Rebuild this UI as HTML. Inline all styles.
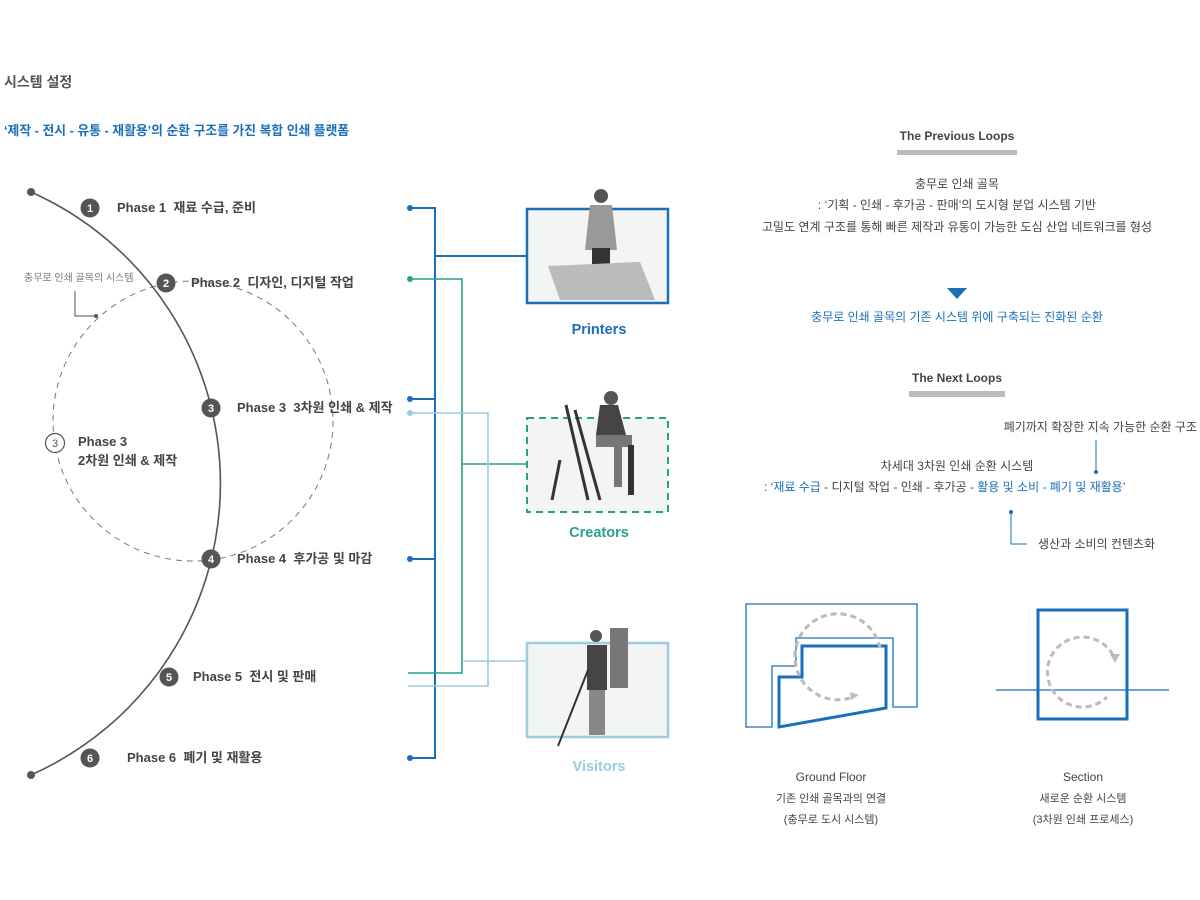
<!DOCTYPE html>
<html><head><meta charset="utf-8"><style>
html,body{margin:0;padding:0;background:#fff;width:1200px;height:900px;overflow:hidden}
svg{display:block}
text{font-family:"Liberation Sans","Noto Sans CJK KR",sans-serif;white-space:pre}
.ph{font-size:13px;font-weight:bold;fill:#444}
.num{font-size:11px;font-weight:bold;fill:#fff}
.t{font-size:12px;fill:#444}
.s{font-size:11px;fill:#444}
</style></head><body>
<svg width="1200" height="900" viewBox="0 0 1200 900" xml:space="preserve">
<text x="4" y="87" font-size="14" font-weight="bold" fill="#555">시스템 설정</text>
<text x="4" y="135" font-size="12.8" font-weight="bold" fill="#1a6fbb">‘제작 - 전시 - 유통 - 재활용’의 순환 구조를 가진 복합 인쇄 플랫폼</text>

<circle cx="193" cy="421" r="140" fill="none" stroke="#777" stroke-width="1" stroke-dasharray="6,5"/>
<path d="M31 192 A319 319 0 0 1 31 775" fill="none" stroke="#555" stroke-width="1.6"/>
<circle cx="31" cy="192" r="4" fill="#555"/>
<circle cx="31" cy="775" r="4" fill="#555"/>

<text x="24" y="281" font-size="10" fill="#777">충무로 인쇄 골목의 시스템</text>
<path d="M75 291 V316 H96" fill="none" stroke="#555" stroke-width="1"/>
<circle cx="96" cy="316" r="2" fill="#555"/>

<g>
<circle cx="90" cy="208" r="9.5" fill="#555"/><text class="num" x="90" y="212" text-anchor="middle">1</text>
<circle cx="166" cy="283" r="9.5" fill="#555"/><text class="num" x="166" y="287" text-anchor="middle">2</text>
<circle cx="211" cy="408" r="9.5" fill="#555"/><text class="num" x="211" y="412" text-anchor="middle">3</text>
<circle cx="211" cy="559" r="9.5" fill="#555"/><text class="num" x="211" y="563" text-anchor="middle">4</text>
<circle cx="169" cy="677" r="9.5" fill="#555"/><text class="num" x="169" y="681" text-anchor="middle">5</text>
<circle cx="90" cy="758" r="9.5" fill="#555"/><text class="num" x="90" y="762" text-anchor="middle">6</text>
<circle cx="55" cy="443" r="9.5" fill="#fff" stroke="#555" stroke-width="1.2"/><text x="55" y="447" text-anchor="middle" font-size="11" fill="#555">3</text>
</g>
<text class="ph" x="117" y="212">Phase 1  재료 수급, 준비</text>
<text class="ph" x="191" y="287">Phase 2  디자인, 디지털 작업</text>
<text class="ph" x="237" y="412">Phase 3  3차원 인쇄 &amp; 제작</text>
<text class="ph" x="78" y="446">Phase 3</text>
<text class="ph" x="78" y="465">2차원 인쇄 &amp; 제작</text>
<text class="ph" x="237" y="563">Phase 4  후가공 및 마감</text>
<text class="ph" x="193" y="681">Phase 5  전시 및 판매</text>
<text class="ph" x="127" y="762">Phase 6  폐기 및 재활용</text>

<g fill="none" stroke-width="2">
<path d="M410 208 H435 V758 H410 M410 399 H435 M410 559 H435 M435 256 H526" stroke="#1a6fbb"/>
<path d="M410 279 H462 V673 H408 M462 464 H526" stroke="#27a08c" stroke-width="1.6"/>
<path d="M410 413 H488 V686 H408 M462 661 H526" stroke="#9ccbe3" stroke-width="1.6"/>
</g>
<circle cx="410" cy="208" r="3" fill="#1a6fbb"/>
<circle cx="410" cy="399" r="3" fill="#1a6fbb"/>
<circle cx="410" cy="559" r="3" fill="#1a6fbb"/>
<circle cx="410" cy="758" r="3" fill="#1a6fbb"/>
<circle cx="410" cy="279" r="3" fill="#27a08c"/>
<circle cx="410" cy="413" r="3" fill="#9ccbe3"/>

<rect x="527" y="209" width="141" height="94" fill="#f3f4f4" stroke="#1a6fbb" stroke-width="2.5"/>
<rect x="527" y="418" width="141" height="94" fill="#f3f4f4" stroke="#27a08c" stroke-width="2" stroke-dasharray="7,5"/>
<rect x="527" y="643" width="141" height="94" fill="#f3f4f4" stroke="#9ccbe3" stroke-width="2.5"/>
<g fill="#555">
<circle cx="601" cy="196" r="7"/>
<path d="M590 205 h22 l5 45 h-32 z" fill="#999"/>
<rect x="592" y="248" width="18" height="20" fill="#333"/>
<path d="M548 266 L640 262 L655 300 L560 300 Z" fill="#bbb"/>
<circle cx="611" cy="398" r="7"/>
<path d="M600 405 h18 l8 30 h-30 z" fill="#444"/>
<path d="M596 435 h36 v12 h-10 v40 h-8 v-40 h-18 z" fill="#777"/>
<path d="M566 405 L588 500 M575 410 L600 500 M560 460 L552 500" stroke="#333" stroke-width="3" fill="none"/>
<rect x="628" y="445" width="6" height="50" fill="#333"/>
<circle cx="596" cy="636" r="6"/>
<path d="M610 628 h18 v60 h-18 z" fill="#777"/>
<path d="M587 645 h20 v45 h-20 z" fill="#444"/>
<path d="M589 690 h16 v45 h-16 z" fill="#888"/>
<path d="M588 670 L558 746" stroke="#333" stroke-width="2"/>
</g>
<text x="599" y="334" text-anchor="middle" font-size="14.5" font-weight="bold" fill="#1a6fbb">Printers</text>
<text x="599" y="537" text-anchor="middle" font-size="14.5" font-weight="bold" fill="#27a08c">Creators</text>
<text x="599" y="771" text-anchor="middle" font-size="14.5" font-weight="bold" fill="#9ccbe3">Visitors</text>

<text x="957" y="140" text-anchor="middle" font-size="12" font-weight="bold" fill="#444">The Previous Loops</text>
<rect x="897" y="150" width="120" height="5" fill="#bbb"/>
<text x="957" y="188" text-anchor="middle" class="t">충무로 인쇄 골목</text>
<text x="957" y="209" text-anchor="middle" class="t">: ‘기획 - 인쇄 - 후가공 - 판매’의 도시형 분업 시스템 기반</text>
<text x="957" y="231" text-anchor="middle" class="t">고밀도 연계 구조를 통해 빠른 제작과 유통이 가능한 도심 산업 네트워크를 형성</text>
<path d="M947 288 h20 l-10 11 z" fill="#1a6fbb"/>
<text x="957" y="321" text-anchor="middle" font-size="12" fill="#1a6fbb">충무로 인쇄 골목의 기존 시스템 위에 구축되는 진화된 순환</text>

<text x="957" y="382" text-anchor="middle" font-size="12" font-weight="bold" fill="#444">The Next Loops</text>
<rect x="909" y="391" width="96" height="6" fill="#bbb"/>
<text x="1197" y="431" text-anchor="end" class="t">폐기까지 확장한 지속 가능한 순환 구조</text>
<path d="M1096 440 V472" stroke="#1a6fbb" stroke-width="1"/><circle cx="1096" cy="472" r="2" fill="#1a6fbb"/>
<text x="957" y="470" text-anchor="middle" class="t">차세대 3차원 인쇄 순환 시스템</text>
<text x="764" y="491" class="t">: ‘<tspan fill="#1a6fbb">재료 수급</tspan> - 디지털 작업 - 인쇄 - 후가공 - <tspan fill="#1a6fbb">활용 및 소비 - 폐기 및 재활용</tspan>’</text>
<circle cx="1011" cy="512" r="2" fill="#1a6fbb"/>
<path d="M1011 512 V544 H1027" fill="none" stroke="#1a6fbb" stroke-width="1"/>
<text x="1038" y="548" class="t">생산과 소비의 컨텐츠화</text>

<polygon points="746,604 917,604 917,707 893,707 893,638 796,638 796,666 772,666 772,727 746,727" fill="none" stroke="#1a6fbb" stroke-width="1.3"/>
<polygon points="802,646 886,646 886,708 779,727 779,677 802,677" fill="none" stroke="#1a6fbb" stroke-width="3"/>
<path d="M880 648 A43 43 0 1 0 850 698" fill="none" stroke="#bbb" stroke-width="3" stroke-dasharray="6,4"/>
<path d="M850 692 l9 3 l-8 5 z" fill="#bbb"/>
<line x1="996" y1="690" x2="1169" y2="690" stroke="#1a6fbb" stroke-width="1.3"/>
<rect x="1038" y="610" width="89" height="109" fill="none" stroke="#1a6fbb" stroke-width="3"/>
<path d="M1113 655 A35 35 0 1 0 1107 697" fill="none" stroke="#bbb" stroke-width="3" stroke-dasharray="6,4"/>
<path d="M1110 654 l10 0 l-5 9 z" fill="#bbb"/>

<text x="831" y="781" text-anchor="middle" class="t">Ground Floor</text>
<text x="831" y="802" text-anchor="middle" class="s">기존 인쇄 골목과의 연결</text>
<text x="831" y="823" text-anchor="middle" class="s">(충무로 도시 시스템)</text>
<text x="1083" y="781" text-anchor="middle" class="t">Section</text>
<text x="1083" y="802" text-anchor="middle" class="s">새로운 순환 시스템</text>
<text x="1083" y="823" text-anchor="middle" class="s">(3차원 인쇄 프로세스)</text>
</svg>
</body></html>
